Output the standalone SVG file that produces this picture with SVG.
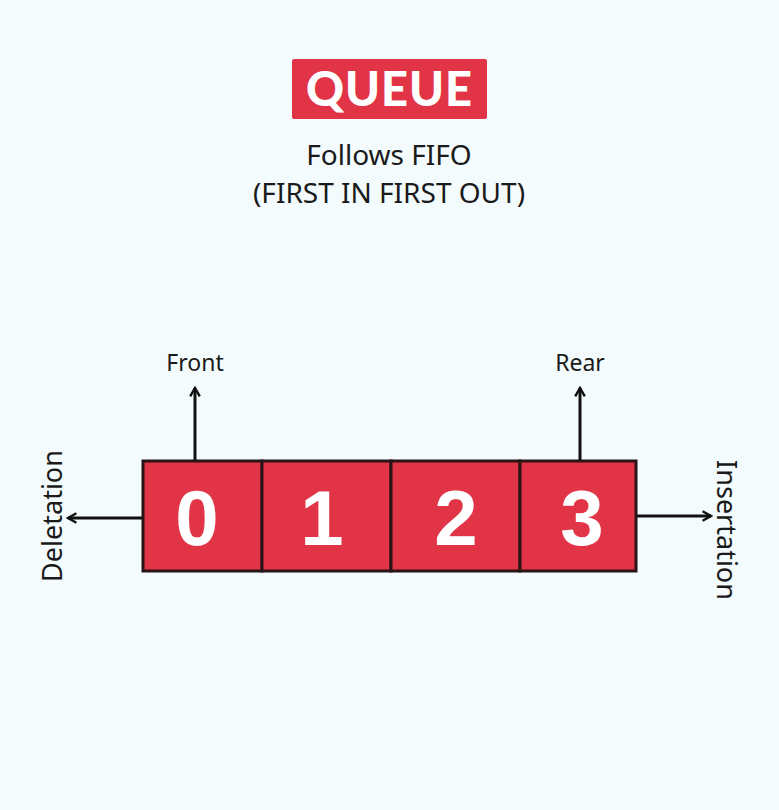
<svg xmlns="http://www.w3.org/2000/svg" width="779" height="810" viewBox="0 0 779 810">
<style>
.lbl{font-family:"Noto Sans","Liberation Sans",sans-serif;fill:#1a1a1a;text-anchor:middle}
.cell{fill:#e23447;stroke:#2a1417;stroke-width:3}
.num{font-family:"Liberation Sans",Arial,sans-serif;font-weight:bold;font-size:78px;fill:#ffffff;text-anchor:middle}
.con{stroke:#111;stroke-width:3;fill:none}
</style>
<defs>
<marker id="ah" viewBox="0 0 10 10" refX="8" refY="5" markerWidth="4" markerHeight="4" orient="auto" markerUnits="strokeWidth">
<path d="M1,1 L8,5 L1,9" fill="none" stroke="#111" stroke-width="2"/>
</marker>
</defs>
<rect width="779" height="810" fill="#f3fbfd"/>
<g id="title">
<rect x="292" y="59" width="195" height="60" rx="2" fill="#e23447"/>
<text x="389.5" y="106" font-family="Lato,'Liberation Sans',sans-serif" font-weight="900" font-size="47" letter-spacing="1" fill="#fff" text-anchor="middle">QUEUE</text>
</g>
<g id="subtitle">
<text class="lbl" x="389" y="165" font-size="28">Follows FIFO</text>
<text class="lbl" x="389" y="203" font-size="28">(FIRST IN FIRST OUT)</text>
</g>
<g id="queue">
<g id="cell0"><rect class="cell" x="143" y="461" width="119" height="110"/><text class="num" x="197" y="545">0</text></g>
<g id="cell1"><rect class="cell" x="262" y="461" width="129" height="110"/><text class="num" x="322" y="545">1</text></g>
<g id="cell2"><rect class="cell" x="391" y="461" width="129" height="110"/><text class="num" x="456" y="545">2</text></g>
<g id="cell3"><rect class="cell" x="520" y="461" width="116" height="110"/><text class="num" x="582" y="545">3</text></g>
</g>
<g id="labels">
<text id="front" class="lbl" x="195" y="371" font-size="23">Front</text>
<text id="rear" class="lbl" x="580" y="371" font-size="23">Rear</text>
<text id="deletation" class="lbl" font-size="27" transform="translate(62,516) rotate(-90)">Deletation</text>
<text id="insertation" class="lbl" font-size="27" transform="translate(717,530) rotate(90)">Insertation</text>
</g>
<g id="connectors">
<line class="con" x1="195" y1="460" x2="195" y2="388" marker-end="url(#ah)"/>
<line class="con" x1="580" y1="460" x2="580" y2="388" marker-end="url(#ah)"/>
<line class="con" x1="142" y1="518" x2="68" y2="518" marker-end="url(#ah)"/>
<line class="con" x1="637" y1="516" x2="711" y2="516" marker-end="url(#ah)"/>
</g>
</svg>
